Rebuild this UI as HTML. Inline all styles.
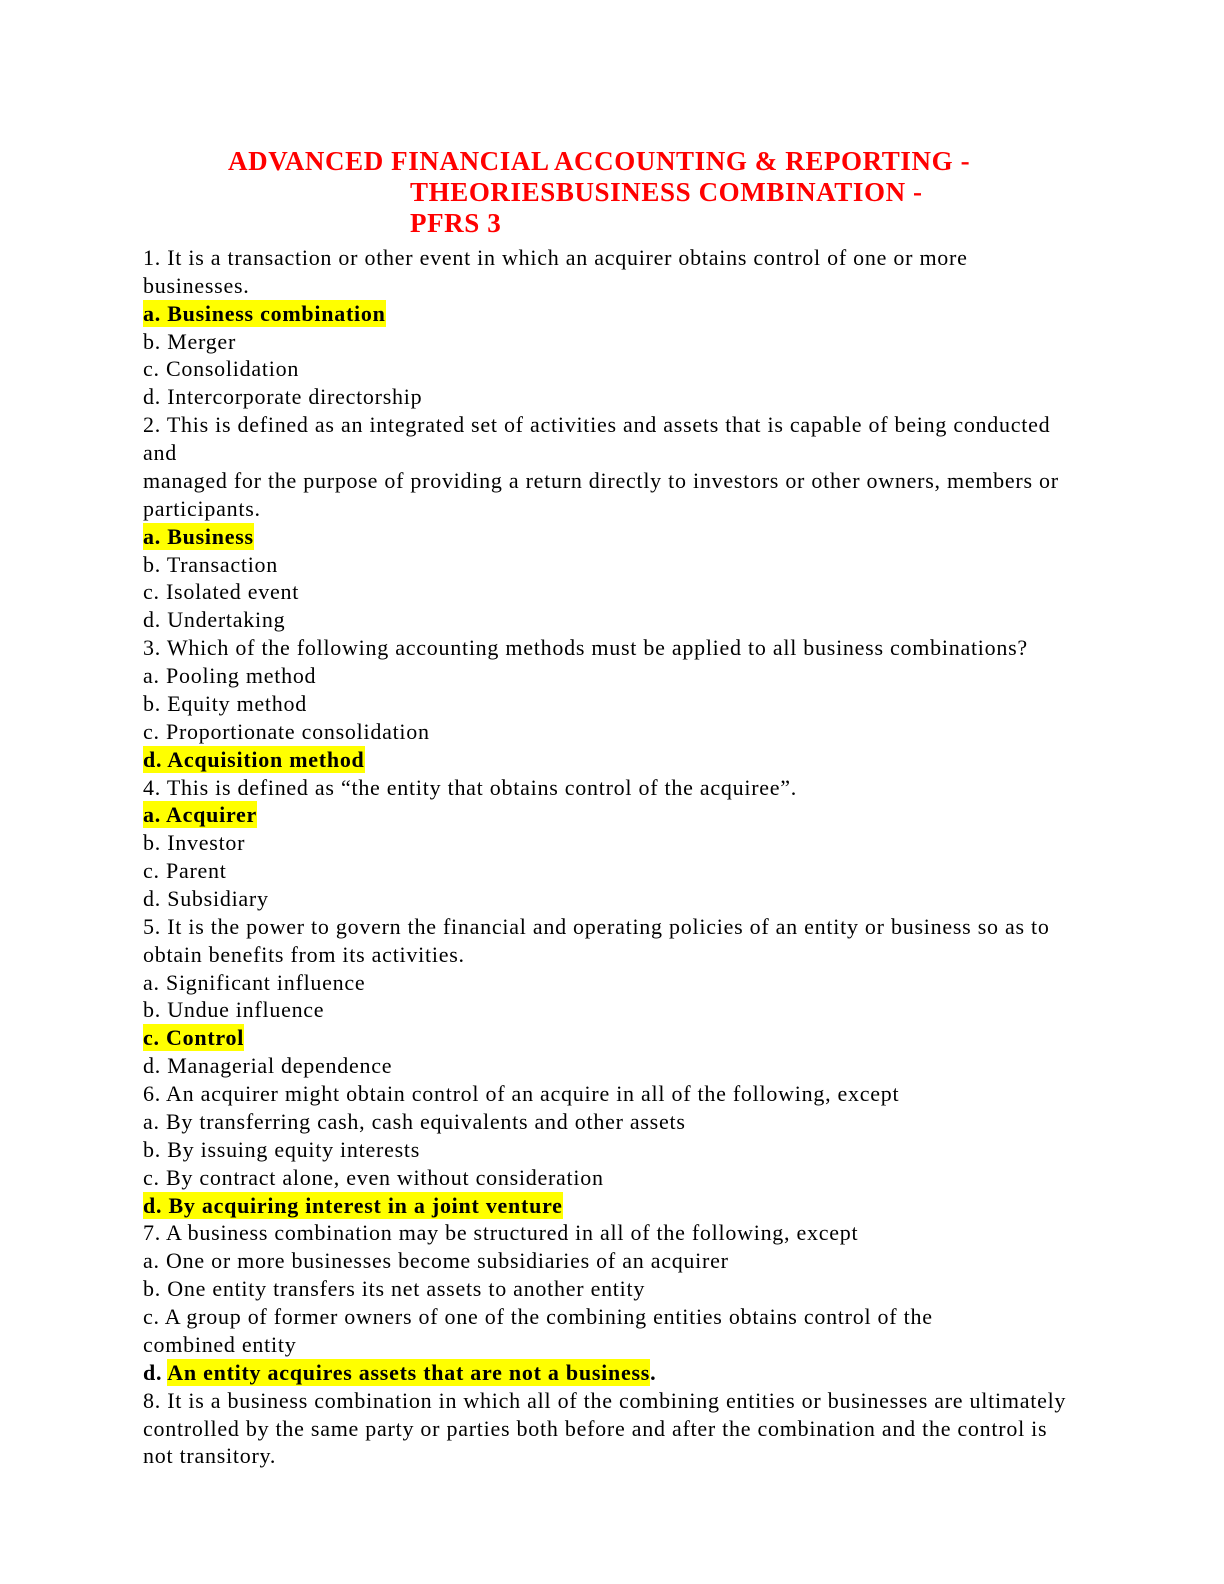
<!DOCTYPE html>
<html><head><meta charset="utf-8">
<style>
body{margin:0;background:#fff;}
.p{position:relative;width:1224px;height:1584px;overflow:hidden;font-family:"Liberation Serif",serif;}
.l{position:absolute;left:143px;font-size:22px;line-height:26px;white-space:nowrap;color:#000;letter-spacing:0.74px;}
.t{position:absolute;font-size:27px;font-weight:bold;color:#f00;white-space:nowrap;line-height:30px;letter-spacing:0.6px;}
.h{background:#ff0;font-weight:bold;padding:1px 0;}
b{font-weight:bold;}
</style></head><body><div class="p">
<div class="t" style="left:228px;top:146px">ADVANCED FINANCIAL ACCOUNTING &amp; REPORTING -</div>
<div class="t" style="left:410px;top:177px">THEORIESBUSINESS COMBINATION -</div>
<div class="t" style="left:410px;top:208px">PFRS 3</div>
<div class="l" style="top:245px">1. It is a transaction or other event in which an acquirer obtains control of one or more</div>
<div class="l" style="top:273px">businesses.</div>
<div class="l" style="top:301px"><span class="h">a. Business combination</span></div>
<div class="l" style="top:329px">b. Merger</div>
<div class="l" style="top:356px">c. Consolidation</div>
<div class="l" style="top:384px">d. Intercorporate directorship</div>
<div class="l" style="top:412px">2. This is defined as an integrated set of activities and assets that is capable of being conducted</div>
<div class="l" style="top:440px">and</div>
<div class="l" style="top:468px">managed for the purpose of providing a return directly to investors or other owners, members or</div>
<div class="l" style="top:496px">participants.</div>
<div class="l" style="top:524px"><span class="h">a. Business</span></div>
<div class="l" style="top:552px">b. Transaction</div>
<div class="l" style="top:579px">c. Isolated event</div>
<div class="l" style="top:607px">d. Undertaking</div>
<div class="l" style="top:635px">3. Which of the following accounting methods must be applied to all business combinations?</div>
<div class="l" style="top:663px">a. Pooling method</div>
<div class="l" style="top:691px">b. Equity method</div>
<div class="l" style="top:719px">c. Proportionate consolidation</div>
<div class="l" style="top:747px"><span class="h">d. Acquisition method</span></div>
<div class="l" style="top:775px">4. This is defined as “the entity that obtains control of the acquiree”.</div>
<div class="l" style="top:802px"><span class="h">a. Acquirer</span></div>
<div class="l" style="top:830px">b. Investor</div>
<div class="l" style="top:858px">c. Parent</div>
<div class="l" style="top:886px">d. Subsidiary</div>
<div class="l" style="top:914px">5. It is the power to govern the financial and operating policies of an entity or business so as to</div>
<div class="l" style="top:942px">obtain benefits from its activities.</div>
<div class="l" style="top:970px">a. Significant influence</div>
<div class="l" style="top:997px">b. Undue influence</div>
<div class="l" style="top:1025px"><span class="h">c. Control</span></div>
<div class="l" style="top:1053px">d. Managerial dependence</div>
<div class="l" style="top:1081px">6. An acquirer might obtain control of an acquire in all of the following, except</div>
<div class="l" style="top:1109px">a. By transferring cash, cash equivalents and other assets</div>
<div class="l" style="top:1137px">b. By issuing equity interests</div>
<div class="l" style="top:1165px">c. By contract alone, even without consideration</div>
<div class="l" style="top:1193px"><span class="h">d. By acquiring interest in a joint venture</span></div>
<div class="l" style="top:1220px">7. A business combination may be structured in all of the following, except</div>
<div class="l" style="top:1248px">a. One or more businesses become subsidiaries of an acquirer</div>
<div class="l" style="top:1276px">b. One entity transfers its net assets to another entity</div>
<div class="l" style="top:1304px">c. A group of former owners of one of the combining entities obtains control of the</div>
<div class="l" style="top:1332px">combined entity</div>
<div class="l" style="top:1360px"><b>d. </b><span class="h">An entity acquires assets that are not a business</span><b>.</b></div>
<div class="l" style="top:1388px">8. It is a business combination in which all of the combining entities or businesses are ultimately</div>
<div class="l" style="top:1416px">controlled by the same party or parties both before and after the combination and the control is</div>
<div class="l" style="top:1443px">not transitory.</div>
</div></body></html>
